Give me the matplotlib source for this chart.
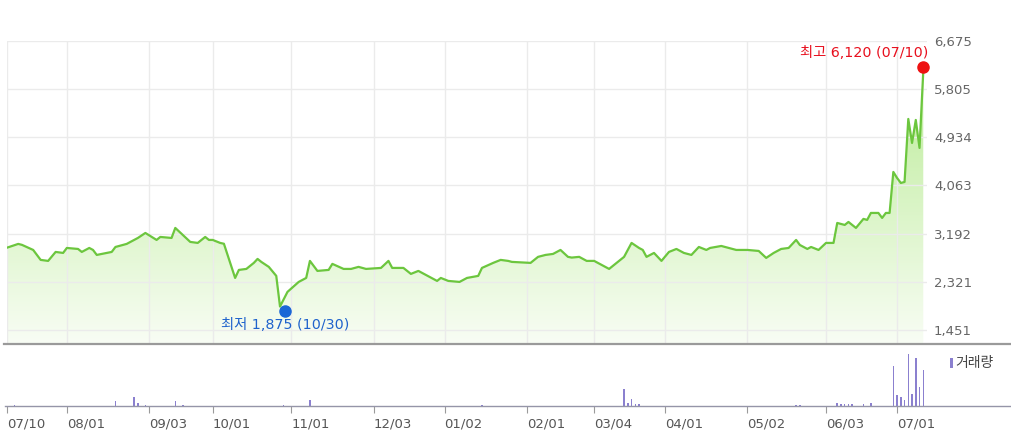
import numpy as np
import matplotlib
matplotlib.use('Agg')
import matplotlib.pyplot as plt
from matplotlib.lines import Line2D
from matplotlib.patches import Rectangle
from matplotlib.transforms import offset_copy

# ---------------- data ----------------
# trading-day index (0 = 07/10) and closing price
price_idx = [0, 3, 4, 7, 9, 11, 13, 15, 16, 19, 20, 22, 23, 24, 28, 29, 32, 34, 35, 37,
             40, 41, 44, 45, 47, 49, 51, 53, 54, 55, 57, 58, 61, 62, 64, 66, 67, 68, 70, 72,
             73, 75, 78, 80, 81, 83, 86, 87, 90, 92, 94, 96, 100, 102, 103, 106, 108, 110, 112, 115,
             116, 118, 121, 123, 126, 127, 130, 132, 134, 135, 140, 142, 144, 146, 148, 150, 151, 153, 155, 157,
             159, 161, 163, 165, 167, 169, 170, 171, 173, 175, 177, 179, 181, 183, 185, 187, 188, 191, 193, 195,
             198, 201, 203, 205, 207, 209, 211, 212, 214, 215, 217, 219, 221, 222, 224, 225, 227, 229, 230, 231,
             233, 234, 235, 236, 237, 238, 239, 240, 241, 242, 243, 244, 245]
price_val = [2939, 3007, 2990, 2898, 2718, 2700, 2862, 2844, 2934, 2916, 2862, 2934, 2898, 2808, 2862, 2952, 3007, 3079, 3115, 3205,
             3079, 3133, 3115, 3296, 3170, 3043, 3025, 3133, 3079, 3079, 3025, 3010, 2392, 2537, 2555, 2664, 2736, 2682, 2592, 2429,
             1875, 2140, 2320, 2392, 2700, 2519, 2537, 2646, 2555, 2555, 2592, 2555, 2573, 2700, 2573, 2573, 2465, 2519, 2447, 2338,
             2392, 2338, 2320, 2392, 2429, 2573, 2664, 2718, 2700, 2682, 2664, 2773, 2808, 2826, 2898, 2773, 2760, 2773, 2700, 2700,
             2628, 2555, 2664, 2773, 3025, 2934, 2898, 2773, 2844, 2700, 2862, 2916, 2844, 2808, 2952, 2898, 2934, 2970, 2934, 2898,
             2898, 2880, 2754, 2844, 2916, 2934, 3079, 2988, 2916, 2952, 2898, 3025, 3025, 3386, 3350, 3404, 3296, 3459, 3441, 3567,
             3567, 3477, 3567, 3567, 4308, 4199, 4109, 4127, 5266, 4832, 5248, 4742, 6120]

# volume (relative units)
vol_idx = [2, 29, 34, 35, 37, 45, 47, 74, 81, 127, 165, 166, 167, 168, 169, 211, 212, 222, 223, 224,
           225, 226, 229, 231, 237, 238, 239, 240, 241, 242, 243, 244, 245]
vol_val = [10, 47, 90, 30, 10, 47, 15, 10, 60, 10, 170, 30, 70, 20, 20, 10, 10, 30, 20, 20,
           20, 20, 20, 30, 400, 110, 90, 60, 520, 120, 480, 190, 360]

tick_idx = [0, 16, 38, 55, 76, 98, 117, 139, 157, 176, 198, 219, 238]
tick_labels = ['07/10', '08/01', '09/03', '10/01', '11/01', '12/03', '01/02', '02/01',
               '03/04', '04/01', '05/02', '06/03', '07/01']
y_ticks = [1451, 2321, 3192, 4063, 4934, 5805, 6675]

max_label = '최고 6,120 (07/10)'
min_label = '최저 1,875 (10/30)'
vol_label = '거래량'

# ---------------- figure ----------------
W, H = 1011, 440
fig = plt.figure(figsize=(W / 100, H / 100), dpi=100)
fig.patch.set_facecolor('white')


def fx(px):
    return px / W


def fy(py):
    return 1 - py / H


KR = ['Noto Sans CJK KR', 'DejaVu Sans']
MIX = ['DejaVu Sans', 'Noto Sans CJK KR']
LINE_C = '#6cc63e'
VOL_C = '#8b80cf'

ax = fig.add_axes([fx(7), fy(343), 920 / W, 302 / H])
YMIN, YMAX = 1216, 6675

# gradient fill under the line
poly = ax.fill_between(price_idx, price_val, YMIN, color='none', lw=0)
top_c = np.array([181, 234, 142]) / 255
bot_c = np.array([248, 253, 244]) / 255
t = np.linspace(0, 1, 256).reshape(-1, 1, 1)
grad = top_c * (1 - t) + bot_c * t
im = ax.imshow(grad, extent=[0, 246, YMIN, YMAX], aspect='auto', origin='upper',
               zorder=1, interpolation='bilinear')
im.set_clip_path(poly.get_paths()[0], transform=ax.transData)

ax.plot(price_idx, price_val, color=LINE_C, lw=1.6, zorder=3, solid_joinstyle='round')

ax.set_xlim(0, 246)
ax.set_ylim(YMIN, YMAX)
ax.set_xticks(tick_idx)
ax.set_yticks(y_ticks)
ax.set_yticklabels([f'{v:,}' for v in y_ticks])
ax.yaxis.tick_right()
ax.tick_params(axis='y', length=0, pad=5, labelsize=9.5, labelcolor='#666666')
ax.tick_params(axis='x', length=0, labelbottom=False)
ax.grid(True, color='#ebebeb', lw=1)
ax.set_axisbelow('line')
for s in ax.spines.values():
    s.set_visible(False)

# max / min markers
imax = int(np.argmax(price_val))
imin = int(np.argmin(price_val))
ax.plot(price_idx[imax], price_val[imax], 'o', color='#ee1111', ms=8, zorder=5,
        transform=offset_copy(ax.transData, fig=fig, x=0, y=5, units='dots'), clip_on=False)
ax.plot(price_idx[imin], price_val[imin], 'o', color='#1a66d6', ms=8, zorder=5,
        transform=offset_copy(ax.transData, fig=fig, x=5, y=-4, units='dots'), clip_on=False)
ax.annotate(max_label, (price_idx[imax], price_val[imax]), xytext=(5, 19),
            textcoords='offset pixels', ha='right', va='center', color='#e8101e',
            fontsize=10.3, family=MIX, zorder=6)
ax.annotate(min_label, (price_idx[imin], price_val[imin]), xytext=(5, -18.5),
            textcoords='offset pixels', ha='center', va='center', color='#1f63cc',
            fontsize=10.3, family=MIX, zorder=6)

# volume panel
ax2 = fig.add_axes([fx(7), fy(406), 920 / W, 56 / H])
ax2.bar(vol_idx, vol_val, width=0.4, color=VOL_C, lw=0)
ax2.set_xlim(0, 246)
ax2.set_ylim(0, 560)
ax2.set_yticks([])
ax2.set_xticks(tick_idx)
ax2.set_xticklabels(tick_labels)
ax2.tick_params(axis='x', length=5, color='#9a9a9a', labelsize=9.5, labelcolor='#555555', pad=3)
for lbl in ax2.get_xticklabels():
    lbl.set_horizontalalignment('left')
for s in ax2.spines.values():
    s.set_visible(False)
ax2.patch.set_alpha(0)

# separator lines
fig.add_artist(Line2D([fx(4), 1], [fy(343.5), fy(343.5)], color='#9a9a9a', lw=1.6))
fig.add_artist(Line2D([fx(5), 1], [fy(406), fy(406)], color='#9595a8', lw=1.0))

# volume legend
fig.add_artist(Rectangle((fx(950), fy(368)), 3 / W, 10 / H, color=VOL_C, lw=0))
fig.text(fx(955), fy(363), vol_label, ha='left', va='center', fontsize=10,
         family=KR, color='#444444')

fig.savefig('out.png', dpi=100)
